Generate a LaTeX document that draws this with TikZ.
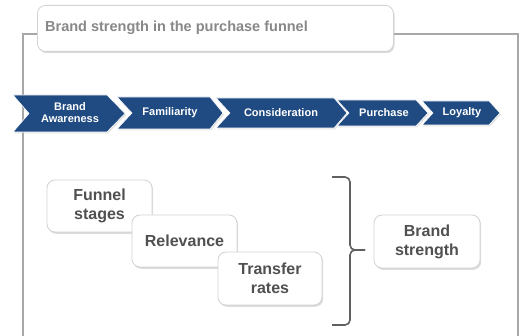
\documentclass[tikz,border=0pt]{standalone}
\usepackage{fontspec}
\setmainfont{Liberation Sans}
\usetikzlibrary{shadows}
\definecolor{navy}{HTML}{1F4B82}
\definecolor{framegray}{HTML}{A8A8A8}
\definecolor{boxtext}{HTML}{505050}
\definecolor{titletext}{HTML}{888888}
\tikzset{
  chev/.style={fill=navy, draw=white, line width=0.6pt, drop shadow={shadow xshift=1pt, shadow yshift=-1.5pt, fill=gray!45}},
  chevtext/.style={text=white, font=\fontsize{11}{12}\selectfont\bfseries, align=center, inner sep=0pt},
  card/.style={rectangle, rounded corners=8pt, draw=gray!35, line width=0.8pt, fill=white,
    drop shadow={shadow xshift=1.2pt, shadow yshift=-1.8pt, fill=gray!55},
    text=boxtext, font=\fontsize{16}{19}\selectfont\bfseries, align=center, inner sep=0pt},
  bracestyle/.style={draw=gray!75!black, line width=1.6pt}
}
\begin{document}
\begin{tikzpicture}[x=1pt,y=-1pt]
\useasboundingbox (0,0) rectangle (523,336);
\begin{scope}
\clip (0,0) rectangle (523,336);
% frame
\draw[framegray, line width=1.3pt] (23,34) rectangle (518,360);
% title
\node[card, minimum width=356pt, minimum height=46pt, text=titletext,
  font=\fontsize{14.5}{17}\selectfont\bfseries, anchor=north west] (title) at (37,5) {};
\node[text=titletext, font=\fontsize{14.5}{17}\selectfont\bfseries, anchor=west, inner sep=0pt] (titlelabel) at (45,28) {Brand strength in the purchase funnel};
% chevrons
\newcommand{\chevpath}[6]{\path[chev] (#1,#5) -- (#3,#5) -- (#4,{(#5+#6)/2}) -- (#3,#6) -- (#1,#6) -- (#2,{(#5+#6)/2}) -- cycle;}
\chevpath{13}{29}{107}{125}{95}{132}
\chevpath{117}{132}{210}{223}{97}{129}
\chevpath{216}{230}{334}{347}{98}{128}
\chevpath{337}{349}{416}{428}{100}{126}
\chevpath{422}{433}{489}{500}{101}{125}
\node[chevtext] (awareness) at (70,113) {Brand\\Awareness};
\node[chevtext] (familiarity) at (170,113) {Familiarity};
\node[chevtext] (consideration) at (281,113) {Consideration};
\node[chevtext] (purchase) at (384,113) {Purchase};
\node[chevtext] (loyalty) at (462,113) {Loyalty};
% cards
\node[card, minimum width=105pt, minimum height=52pt] (funnel) at (99.5,206) {Funnel\\stages};
\node[card, minimum width=105pt, minimum height=52pt] (relevance) at (184.5,241) {Relevance};
\node[card, minimum width=104pt, minimum height=53pt] (transfer) at (270,278.5) {Transfer\\rates};
\node[card, minimum width=106pt, minimum height=53pt] (strength) at (427,241.5) {Brand\\strength};
% brace
\coordinate (btop) at (332,177);
\coordinate (bbot) at (332,325);
\coordinate (btip) at (strength.west -| 365,0);
\draw[bracestyle] (btop) -- (345,177) to[out=0,in=90] (350,182) -- (350,245) to[out=-90,in=180] (355,250) -- (365,250);
\draw[bracestyle] (365,250) -- (355,250) to[out=180,in=90] (350,255) -- (350,320) to[out=-90,in=0] (345,325) -- (bbot);
\end{scope}
\end{tikzpicture}
\end{document}
